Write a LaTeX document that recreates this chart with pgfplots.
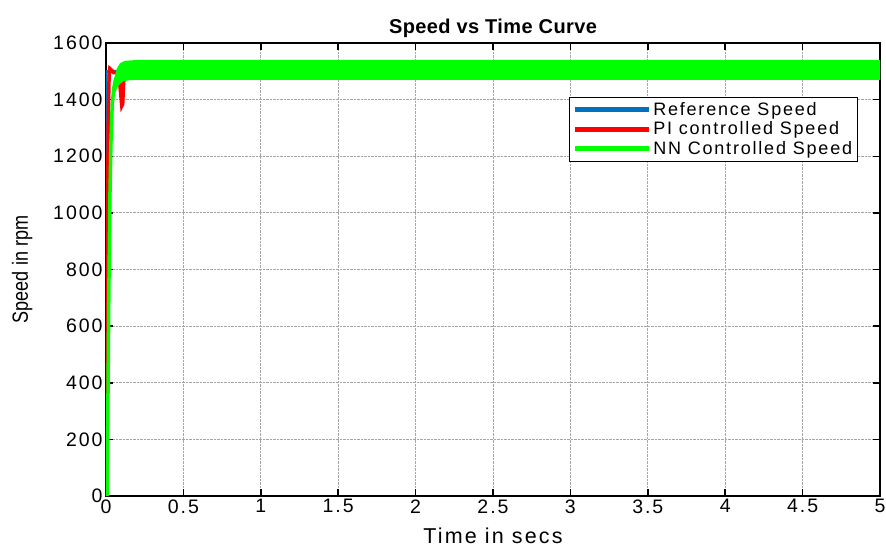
\documentclass[border=0pt]{standalone}
\usepackage{fontspec}
\setmainfont{Liberation Sans}
\newfontfamily\widefont[LetterSpace=10]{Liberation Sans}
\newfontfamily\narrowfont[FakeStretch=0.82]{Liberation Sans}
\usepackage{pgfplots}
\pgfplotsset{compat=1.18}
\definecolor{refblue}{RGB}{0,114,189}
\definecolor{pired}{RGB}{255,0,0}
\definecolor{nngreen}{RGB}{0,255,0}
\begin{document}
\begin{tikzpicture}
\begin{axis}[
  name=ax,
  scale only axis,
  width=774pt, height=453pt,
  xmin=0, xmax=5, ymin=0, ymax=1600,
  xtick={0,0.5,...,5},
  xticklabels={0,0.5,1,1.5,2,2.5,3,3.5,4,4.5,5},
  ytick={0,200,...,1600},
  /pgf/number format/1000 sep={},
  /pgf/number format/assume math mode=true,
  tick label style={font=\widefont\fontsize{19.5}{21}\selectfont},
  grid=major,
  major grid style={densely dotted, gray!70, line width=0.8pt},
  tick align=inside,
  major tick length=7pt,
  tick style={black, line width=1.5pt},
  axis line style={black, line width=1.8pt},
  title={\bfseries Speed vs Time Curve},
  title style={font=\addfontfeature{LetterSpace=2}\fontsize{20}{22}\selectfont, yshift=-4pt},
  xlabel={Time in secs},
  xlabel style={font=\widefont\fontsize{21.5}{23}\selectfont, yshift=-8pt},
  ylabel={Speed in rpm},
  ylabel style={font=\narrowfont\fontsize{22}{24}\selectfont, yshift=14pt},
  legend style={at={(0.971,0.881)}, anchor=north east, draw=black, line width=0.8pt,
    font=\widefont\fontsize{18}{21}\selectfont, row sep=1pt, inner sep=3pt,
    nodes={inner sep=2pt}},
  legend cell align=left,
  legend image code/.code={\draw[line width=5pt] (0cm,0cm) -- (2.6cm,0cm);},
]
\addplot[refblue, line width=3pt] coordinates {(0,0) (0.0005,1500) (5,1500)};
\addlegendentry{Reference Speed}
\addplot[pired, line width=3.5pt] coordinates {
(0,0) (0.005,500) (0.01,1000) (0.015,1350) (0.02,1480) (0.025,1510) (0.035,1505)
(0.05,1495) (0.07,1495) (0.085,1480) (0.095,1420) (0.102,1378) (0.108,1385) (0.113,1450) (0.12,1500) (0.2,1500) (5,1500)};
\addlegendentry{PI controlled Speed}
\addplot[nngreen, line width=3.5pt] coordinates {
(0.008,0) (0.012,300) (0.018,700) (0.025,1050) (0.032,1250) (0.04,1380) (0.05,1440) (0.06,1470) (0.08,1490) (0.12,1505)};
\addlegendentry{NN Controlled Speed}
\addplot[fill=nngreen, draw=none, forget plot] coordinates {
(0.045,1430) (0.055,1480) (0.07,1510) (0.09,1528) (0.12,1537) (0.2,1540) (5,1540)
(5,1470) (0.2,1470) (0.14,1468) (0.1,1462) (0.07,1440) (0.05,1410)} -- cycle;
\end{axis}
\pgfresetboundingbox
\path (ax.south west) ++(-106pt,-56pt) rectangle ++(886pt,552pt);
\end{tikzpicture}
\end{document}
